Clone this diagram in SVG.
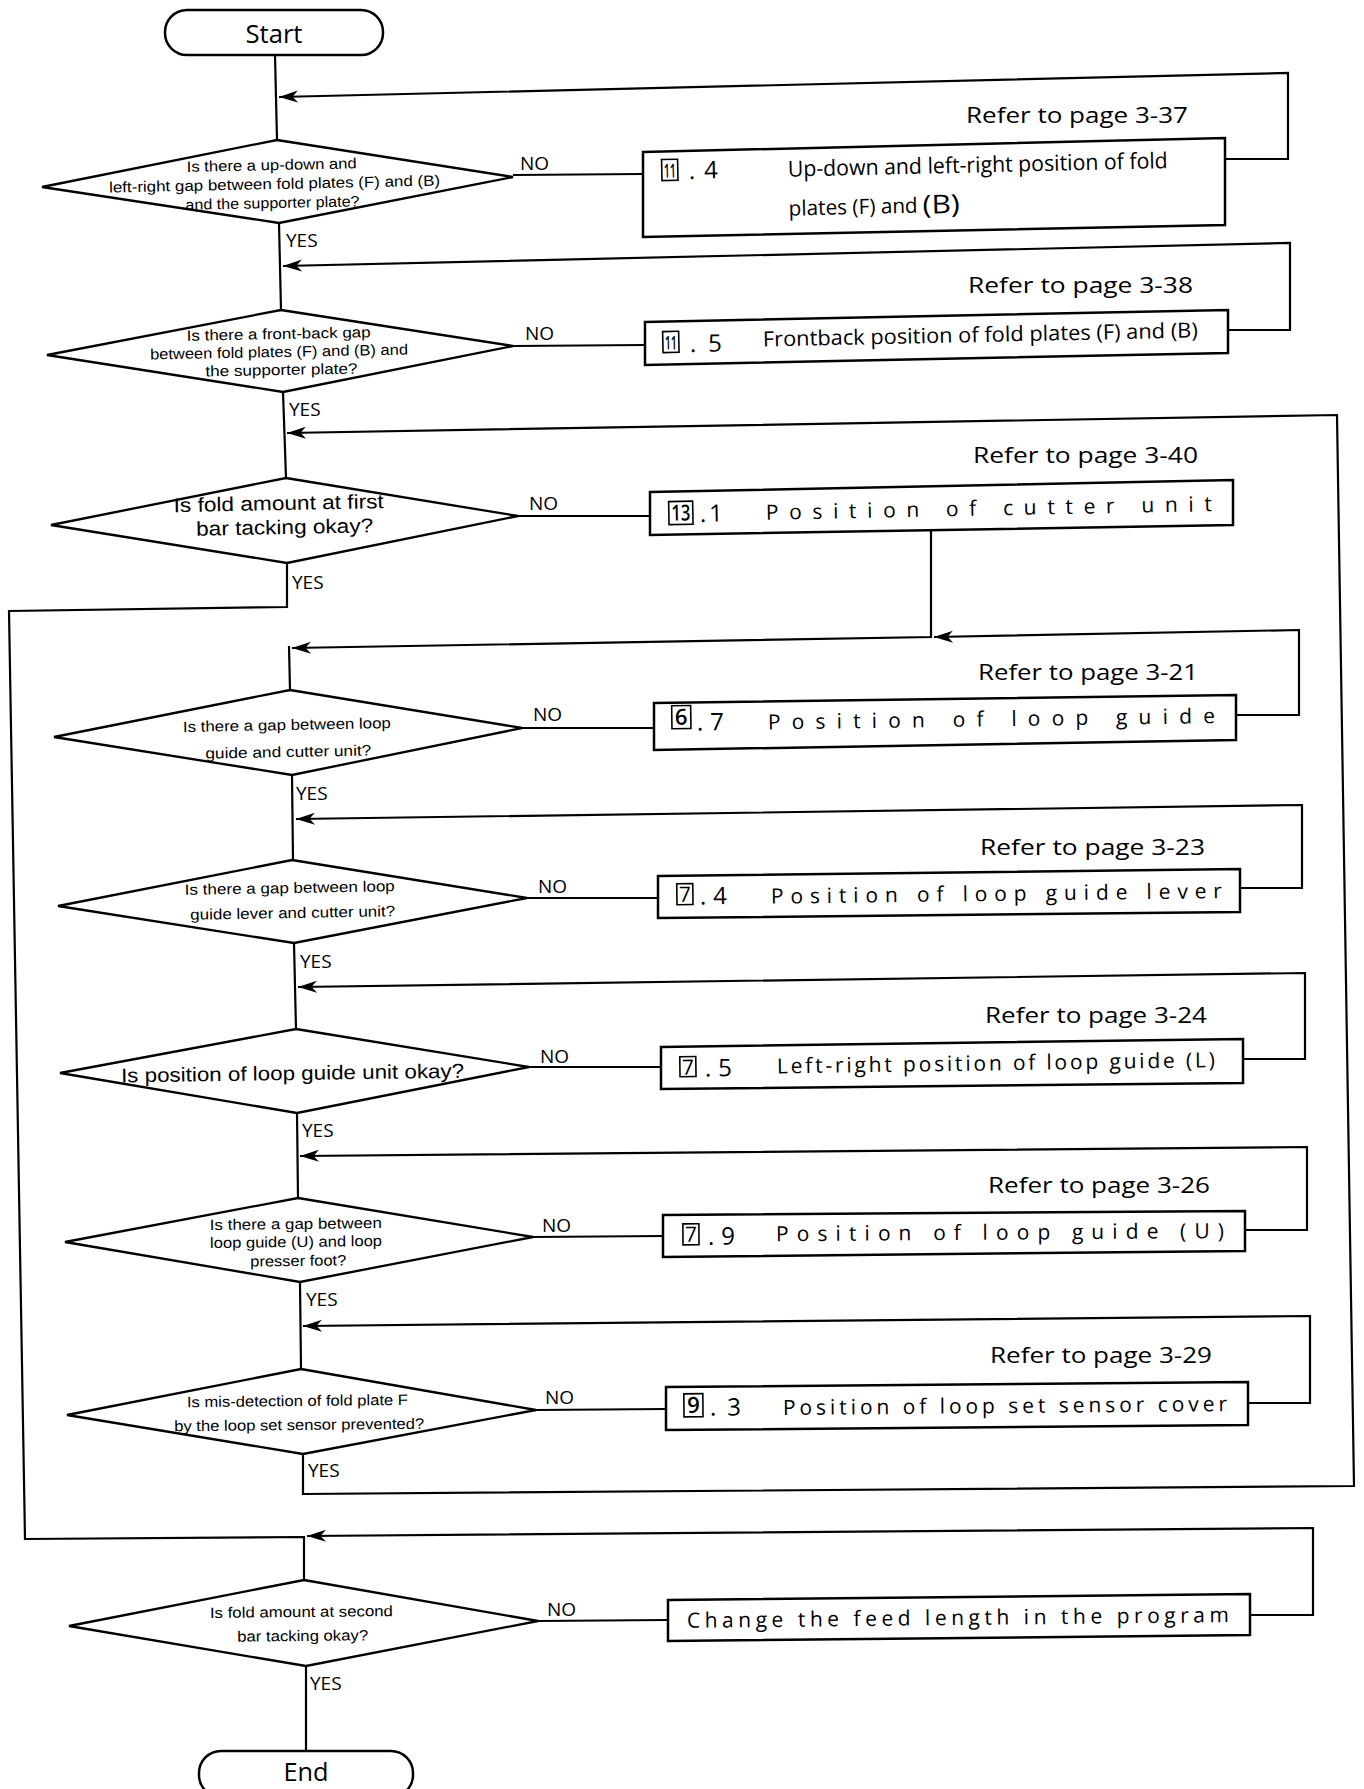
<svg xmlns="http://www.w3.org/2000/svg" width="1364" height="1789" viewBox="0 0 1364 1789">
<defs>
<style>
.ln{fill:none;stroke:#000;stroke-width:2.2;stroke-linejoin:miter;stroke-linecap:butt}
.ar{marker-end:url(#ah)}
.bx{fill:#fff;stroke:#000;stroke-width:2.5}
.dm{fill:#fff;stroke:#000;stroke-width:2.3}
.nb{fill:none;stroke:#000;stroke-width:1.6}
text{font-family:"Open Sans","Noto Sans","Liberation Sans",sans-serif;fill:#000}
.q{font-family:"Liberation Sans",Arial,sans-serif;font-size:15px}
.qb{font-family:"Liberation Sans",Arial,sans-serif;font-size:20px}
.lb{font-size:19px}
.rf{font-size:22.5px}
.it{font-size:21px}
.dg{font-size:24px}
.bn{font-size:19px;font-weight:600}
.term{font-size:25px}
</style>
<marker id="ah" markerUnits="userSpaceOnUse" markerWidth="24" markerHeight="16" refX="20" refY="8" orient="auto" viewBox="0 0 24 16"><path d="M20,8 L1,2 L6.5,8 L1,14 Z" fill="#000"/></marker>
</defs>
<rect width="1364" height="1789" fill="#fff"/>

<g id="connectors">
  <path class="ln" d="M275,55 L277,140"/>
  <path class="ln" d="M279,223 L281,310"/>
  <path class="ln" d="M283,392 L286,478"/>
  <path class="ln" d="M287,563 L287,607 L9,611 L25,1539 L304,1537 L304,1580"/>
  <path class="ln" d="M289,646 L290,690"/>
  <path class="ln" d="M292,775 L293,860"/>
  <path class="ln" d="M294,943 L296,1029"/>
  <path class="ln" d="M297,1113 L298,1198"/>
  <path class="ln" d="M300,1282 L301,1369"/>
  <path class="ln" d="M306,1666 L306,1751"/>
  <path class="ln ar" d="M303,1454 L303,1494 L1354,1486 L1337,415 L287,433"/>
  <path class="ln ar" d="M931,528 L931,637 L292,648"/>
  <path class="ln" d="M513,175 L643,174"/>
  <path class="ln" d="M513,346 L645,345"/>
  <path class="ln" d="M518,516 L650,516"/>
  <path class="ln" d="M522,728 L654,728"/>
  <path class="ln" d="M527,898 L658,898"/>
  <path class="ln" d="M529,1067 L661,1067"/>
  <path class="ln" d="M533,1237 L663,1236"/>
  <path class="ln" d="M536,1410 L666,1409"/>
  <path class="ln" d="M538,1621 L668,1620"/>
  <path class="ln ar" d="M1225,159 L1288,159 L1288,73 L279,97"/>
  <path class="ln ar" d="M1228,330 L1290,330 L1290,243 L283,266"/>
  <path class="ln ar" d="M1236,715 L1299,715 L1299,630 L934,637"/>
  <path class="ln ar" d="M1240,888 L1302,888 L1302,805 L296,819"/>
  <path class="ln ar" d="M1243,1059 L1305,1059 L1305,973 L298,987"/>
  <path class="ln ar" d="M1245,1230 L1307,1230 L1307,1147 L300,1156"/>
  <path class="ln ar" d="M1248,1403 L1310,1403 L1310,1316 L303,1326"/>
  <path class="ln ar" d="M1250,1615 L1313,1615 L1313,1528 L307,1536"/>
</g>

<g id="labels">
  <text class="lb" x="520" y="170">NO</text>
  <text class="lb" x="525" y="340">NO</text>
  <text class="lb" x="529" y="510">NO</text>
  <text class="lb" x="533" y="721">NO</text>
  <text class="lb" x="538" y="893">NO</text>
  <text class="lb" x="540" y="1063">NO</text>
  <text class="lb" x="542" y="1232">NO</text>
  <text class="lb" x="545" y="1404">NO</text>
  <text class="lb" x="547" y="1616">NO</text>
  <text class="lb" x="286" y="247">YES</text>
  <text class="lb" x="289" y="416">YES</text>
  <text class="lb" x="292" y="589">YES</text>
  <text class="lb" x="296" y="800">YES</text>
  <text class="lb" x="300" y="968">YES</text>
  <text class="lb" x="302" y="1137">YES</text>
  <text class="lb" x="306" y="1306">YES</text>
  <text class="lb" x="308" y="1477">YES</text>
  <text class="lb" x="310" y="1690">YES</text>
  <text class="rf" x="966" y="123" textLength="222" lengthAdjust="spacingAndGlyphs">Refer to page 3-37</text>
  <text class="rf" x="968" y="293" textLength="225" lengthAdjust="spacingAndGlyphs">Refer to page 3-38</text>
  <text class="rf" x="973" y="463" textLength="225" lengthAdjust="spacingAndGlyphs">Refer to page 3-40</text>
  <text class="rf" x="978" y="680" textLength="220" lengthAdjust="spacingAndGlyphs">Refer to page 3-21</text>
  <text class="rf" x="980" y="855" textLength="225" lengthAdjust="spacingAndGlyphs">Refer to page 3-23</text>
  <text class="rf" x="985" y="1023" textLength="222" lengthAdjust="spacingAndGlyphs">Refer to page 3-24</text>
  <text class="rf" x="988" y="1193" textLength="222" lengthAdjust="spacingAndGlyphs">Refer to page 3-26</text>
  <text class="rf" x="990" y="1363" textLength="222" lengthAdjust="spacingAndGlyphs">Refer to page 3-29</text>
</g>

<g id="start">
  <rect class="bx" x="165" y="10" width="218" height="45" rx="22" ry="22"/>
  <text class="term" x="274" y="43" text-anchor="middle" textLength="57" lengthAdjust="spacingAndGlyphs">Start</text>
</g>

<g id="d1">
  <polygon class="dm" points="277,140 513,177 279,223 42,187"/>
  <g transform="rotate(-1.2 277 182)" text-anchor="middle">
    <text class="q" x="272" y="170" textLength="170" lengthAdjust="spacingAndGlyphs">Is there a up-down and</text>
    <text class="q" x="274.5" y="189" textLength="331" lengthAdjust="spacingAndGlyphs">left-right gap between fold plates (F) and (B)</text>
    <text class="q" x="272" y="208" textLength="174" lengthAdjust="spacingAndGlyphs">and the supporter plate?</text>
  </g>
</g>

<g id="b11-4">
  <polygon class="bx" points="643,152 1225,138 1225,225 643,237"/>
  <g transform="rotate(-1.3 643 180)">
    <rect class="nb" x="662" y="160" width="16" height="21"/>
    <text class="bn" x="670" y="178" text-anchor="middle" textLength="12" lengthAdjust="spacingAndGlyphs">11</text>
    <text class="dg" x="689" y="180" textLength="29" lengthAdjust="spacing">.4</text>
    <text class="it" x="788" y="180" textLength="380" lengthAdjust="spacingAndGlyphs" style="font-size:22px">Up-down and left-right position of fold</text>
    <text class="it" x="788" y="219" textLength="129" lengthAdjust="spacingAndGlyphs">plates (F) and</text>
    <text x="922" y="220" textLength="37" lengthAdjust="spacingAndGlyphs" style="font-size:26px">(B)</text>
  </g>
</g>

<g id="d2">
  <polygon class="dm" points="281,310 513,346 283,392 47,355"/>
  <g transform="rotate(-1.1 280 351)" text-anchor="middle">
    <text class="q" x="279" y="339" textLength="184" lengthAdjust="spacingAndGlyphs">Is there a front-back gap</text>
    <text class="q" x="279" y="357" textLength="258" lengthAdjust="spacingAndGlyphs">between fold plates (F) and (B) and</text>
    <text class="q" x="281" y="375" textLength="152" lengthAdjust="spacingAndGlyphs">the supporter plate?</text>
  </g>
</g>

<g id="b11-5">
  <polygon class="bx" points="645,322 1228,310 1228,353 645,365"/>
  <g transform="rotate(-1.2 645 350)">
    <rect class="nb" x="663" y="332" width="16" height="21"/>
    <text class="bn" x="671" y="350" text-anchor="middle" textLength="12" lengthAdjust="spacingAndGlyphs">11</text>
    <text class="dg" x="690" y="353" textLength="32" lengthAdjust="spacing">.5</text>
    <text class="it" x="763" y="349" textLength="435" lengthAdjust="spacingAndGlyphs">Frontback position of fold plates (F) and (B)</text>
  </g>
</g>

<g id="d3">
  <polygon class="dm" points="286,478 518,516 287,563 51,525"/>
  <g transform="rotate(-1.1 285 520)" text-anchor="middle">
    <text class="qb" x="279" y="510" textLength="210" lengthAdjust="spacingAndGlyphs">Is fold amount at first</text>
    <text class="qb" x="284.5" y="534" textLength="177" lengthAdjust="spacingAndGlyphs">bar tacking okay?</text>
  </g>
</g>

<g id="b13-1">
  <polygon class="bx" points="650,492 1233,480 1233,525 650,535"/>
  <g transform="rotate(-1.1 650 522)">
    <rect class="nb" x="669" y="502" width="24" height="23"/>
    <text x="681" y="521" text-anchor="middle" textLength="19" lengthAdjust="spacingAndGlyphs" style="font-size:22px;font-weight:600">13</text>
    <text class="dg" x="700" y="523" textLength="23" lengthAdjust="spacing">.1</text>
    <text class="it" x="766" y="522" textLength="446" lengthAdjust="spacing">Position of cutter unit</text>
  </g>
</g>

<g id="d4">
  <polygon class="dm" points="290,690 522,728 292,775 54,737"/>
  <g transform="rotate(-1.1 289 733)" text-anchor="middle">
    <text class="q" x="287" y="730" textLength="208" lengthAdjust="spacingAndGlyphs">Is there a gap between loop</text>
    <text class="q" x="288" y="757" textLength="166" lengthAdjust="spacingAndGlyphs">guide and cutter unit?</text>
  </g>
</g>

<g id="b6-7">
  <polygon class="bx" points="654,703 1236,695 1236,740 654,750"/>
  <g transform="rotate(-0.8 654 731)">
    <rect class="nb" x="672" y="706" width="19" height="23"/>
    <text x="681.5" y="725" text-anchor="middle" style="font-size:22px;font-weight:600">6</text>
    <text class="dg" x="697" y="731" textLength="27" lengthAdjust="spacing">.7</text>
    <text class="it" x="768" y="731" textLength="447" lengthAdjust="spacing">Position of loop guide</text>
  </g>
</g>

<g id="d5">
  <polygon class="dm" points="292,860 527,898 294,943 58,906"/>
  <g transform="rotate(-1 292 902)" text-anchor="middle">
    <text class="q" x="290" y="893" textLength="210" lengthAdjust="spacingAndGlyphs">Is there a gap between loop</text>
    <text class="q" x="292.5" y="918" textLength="205" lengthAdjust="spacingAndGlyphs">guide lever and cutter unit?</text>
  </g>
</g>

<g id="b7-4">
  <polygon class="bx" points="658,876 1240,869 1240,912 658,918"/>
  <g transform="rotate(-0.7 658 905)">
    <rect class="nb" x="677" y="884" width="16" height="21"/>
    <text x="685" y="902" text-anchor="middle" style="font-size:21px">7</text>
    <text class="dg" x="700" y="905" textLength="27" lengthAdjust="spacing">.4</text>
    <text class="it" x="771" y="905" textLength="451" lengthAdjust="spacing">Position of loop guide lever</text>
  </g>
</g>

<g id="d6">
  <polygon class="dm" points="296,1029 529,1067 297,1113 60,1073"/>
  <g transform="rotate(-0.8 294 1071)" text-anchor="middle">
    <text class="qb" x="292.5" y="1080" textLength="343" lengthAdjust="spacingAndGlyphs">Is position of loop guide unit okay?</text>
  </g>
</g>

<g id="b7-5">
  <polygon class="bx" points="661,1047 1243,1039 1243,1083 661,1089"/>
  <g transform="rotate(-0.8 661 1075)">
    <rect class="nb" x="680" y="1057" width="16" height="20"/>
    <text x="688" y="1075" text-anchor="middle" style="font-size:21px">7</text>
    <text class="dg" x="705" y="1077" textLength="27" lengthAdjust="spacing">.5</text>
    <text class="it" x="777" y="1075" textLength="438" lengthAdjust="spacing">Left-right position of loop guide (L)</text>
  </g>
</g>

<g id="d7">
  <polygon class="dm" points="298,1198 533,1237 300,1282 65,1242"/>
  <g transform="rotate(-0.7 298 1240)" text-anchor="middle">
    <text class="q" x="296" y="1229" textLength="172" lengthAdjust="spacingAndGlyphs">Is there a gap between</text>
    <text class="q" x="296" y="1247" textLength="172" lengthAdjust="spacingAndGlyphs">loop guide (U) and loop</text>
    <text class="q" x="298" y="1266" textLength="96" lengthAdjust="spacingAndGlyphs">presser foot?</text>
  </g>
</g>

<g id="b7-9">
  <polygon class="bx" points="663,1215 1245,1211 1245,1251 663,1257"/>
  <g transform="rotate(-0.4 663 1242)">
    <rect class="nb" x="683" y="1224" width="16" height="21"/>
    <text x="691" y="1242" text-anchor="middle" style="font-size:21px">7</text>
    <text class="dg" x="708" y="1245" textLength="27" lengthAdjust="spacing">.9</text>
    <text class="it" x="776" y="1242" textLength="448" lengthAdjust="spacing">Position of loop guide (U)</text>
  </g>
</g>

<g id="d8">
  <polygon class="dm" points="301,1369 536,1410 303,1454 67,1415"/>
  <g transform="rotate(-0.6 301 1412)" text-anchor="middle">
    <text class="q" x="297.5" y="1406" textLength="221" lengthAdjust="spacingAndGlyphs">Is mis-detection of fold plate F</text>
    <text class="q" x="299" y="1430" textLength="250" lengthAdjust="spacingAndGlyphs">by the loop set sensor prevented?</text>
  </g>
</g>

<g id="b9-3">
  <polygon class="bx" points="666,1387 1248,1382 1248,1425 666,1430"/>
  <g transform="rotate(-0.5 666 1416)">
    <rect class="nb" x="684" y="1394" width="19" height="23"/>
    <text x="693.5" y="1413" text-anchor="middle" style="font-size:22px;font-weight:600">9</text>
    <text class="dg" x="710" y="1416" textLength="31" lengthAdjust="spacing">.3</text>
    <text class="it" x="783" y="1416" textLength="444" lengthAdjust="spacing">Position of loop set sensor cover</text>
  </g>
</g>

<g id="d9">
  <polygon class="dm" points="304,1580 538,1621 306,1666 69,1626"/>
  <g transform="rotate(-0.6 304 1623)" text-anchor="middle">
    <text class="q" x="301.5" y="1617" textLength="183" lengthAdjust="spacingAndGlyphs">Is fold amount at second</text>
    <text class="q" x="302.5" y="1641" textLength="131" lengthAdjust="spacingAndGlyphs">bar tacking okay?</text>
  </g>
</g>

<g id="b-change">
  <polygon class="bx" points="668,1600 1250,1594 1250,1635 668,1641"/>
  <g transform="rotate(-0.6 668 1628)">
    <text class="it" x="687" y="1628" textLength="542" lengthAdjust="spacing">Change the feed length in the program</text>
  </g>
</g>

<g id="end">
  <rect class="bx" x="199" y="1751" width="214" height="46" rx="22" ry="22"/>
  <text class="term" x="306" y="1781" text-anchor="middle" textLength="45" lengthAdjust="spacingAndGlyphs">End</text>
</g>
</svg>
